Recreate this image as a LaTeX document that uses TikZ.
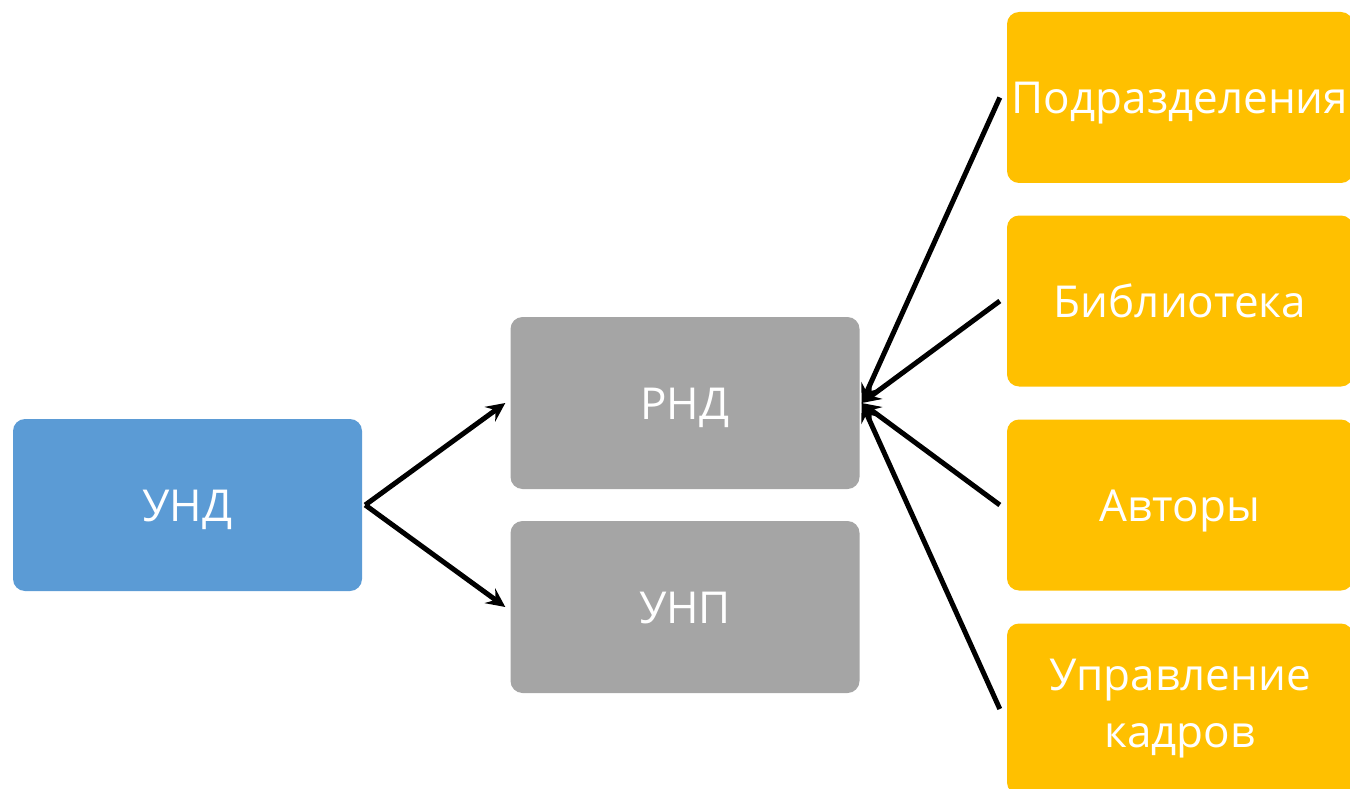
\documentclass[tikz,border=0pt]{standalone}
\usepackage{fontspec}
\setmainfont{Open Sans}
\usetikzlibrary{arrows.meta}
\definecolor{cblue}{HTML}{5B9BD5}
\definecolor{cgray}{HTML}{A5A5A5}
\definecolor{corange}{HTML}{FFC000}
\begin{document}
\begin{tikzpicture}[x=1pt,y=-1pt,
  box/.style={rounded corners=12pt, minimum width=349pt, minimum height=172pt, inner sep=0pt,
    text=white, font=\fontsize{44}{57}\selectfont},
  one/.style={text height=32pt, text depth=0pt},
  obox/.style={box, fill=corange, minimum width=346pt, minimum height=171pt},
  conn/.style={line width=5pt, -{Stealth[length=19pt,width=18pt,inset=7pt]}}]
\useasboundingbox (0,0) rectangle (1350,789);
\node[box, one, fill=cblue] (und) at (187.5,505) {УНД};
\node[box, one, fill=cgray] (rnd) at (685,403) {РНД};
\node[box, one, fill=cgray] (unp) at (685,607) {УНП};
\node[obox, one] (pod) at (1180,97.5) {Подразделения};
\node[obox, one] (bib) at (1180,301) {Библиотека};
\node[obox, one] (avt) at (1180,505) {Авторы};
\node[obox, align=center] (upr) at (1180,709) {Управление\\кадров};
\coordinate (s1) at ([xshift=3pt]und.east);
\coordinate (r1) at ([xshift=-5pt]rnd.west);
\coordinate (r2) at ([xshift=-5pt]unp.west);
\coordinate (t1) at ([xshift=2pt]rnd.east);
\foreach \n in {pod,bib,avt,upr}{\coordinate (\n w) at ([xshift=-7pt]\n.west);}
\draw[conn] (s1) -- (r1);
\draw[conn] (s1) -- (r2);
\foreach \n in {pod,bib,avt,upr}{\draw[conn] (\n w) -- (t1);}
\end{tikzpicture}
\end{document}
